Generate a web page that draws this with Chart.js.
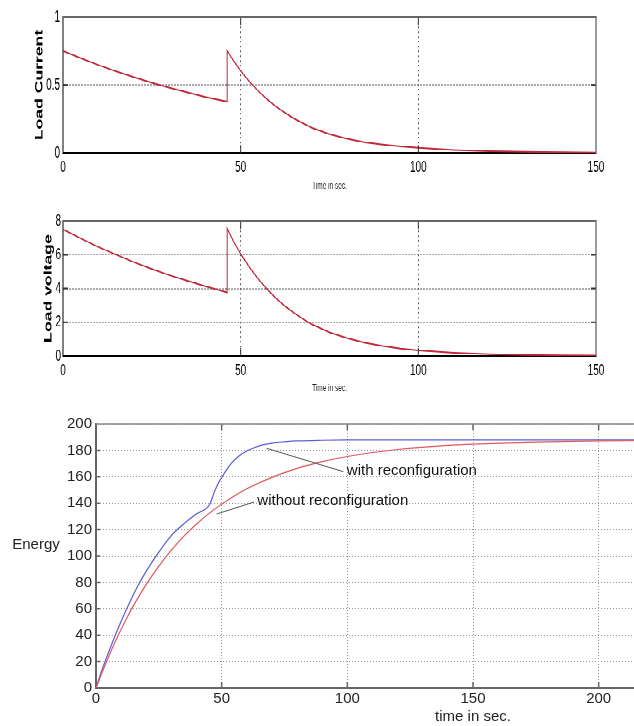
<!DOCTYPE html>
<html>
<head>
<meta charset="utf-8">
<script src="https://cdn.jsdelivr.net/npm/chart.js@4.4.1/dist/chart.umd.min.js"></script>
<style>
html,body{margin:0;padding:0;background:#fff;overflow:hidden;width:634px;height:726px;}
#top{position:absolute;left:0;top:0;width:634px;height:250px;transform:scaleY(1.6);transform-origin:0 0;}
#w1{position:absolute;left:0;top:0;width:634px;height:125px;}
#w2{position:absolute;left:0;top:125px;width:634px;height:125px;}
#w3{position:absolute;left:0;top:400px;width:870px;height:326px;}
</style>
</head>
<body>
<div id="top">
  <div id="w1"><canvas id="c1"></canvas></div>
  <div id="w2"><canvas id="c2"></canvas></div>
</div>
<div id="w3"><canvas id="c3"></canvas></div>
<script>
// ---------- data ----------
const timeTop = [0,5,10,15,20,25,30,35,40,46.2,46.2,48,50,52.5,55,57.5,60,62.5,65,67.5,70,75,80,85,90,95,100,110,120,130,140,150];
const loadCurrent = [0.750,0.697,0.646,0.600,0.557,0.516,0.479,0.445,0.412,0.377,0.752,0.677,0.604,0.523,0.454,0.393,0.340,0.295,0.253,0.219,0.185,0.138,0.104,0.078,0.061,0.048,0.038,0.022,0.013,0.008,0.005,0.003];
const loadVoltage = [7.50,6.96,6.45,6.00,5.55,5.15,4.78,4.45,4.13,3.77,7.55,6.78,6.05,5.25,4.55,3.94,3.41,2.95,2.55,2.20,1.88,1.40,1.05,0.78,0.59,0.44,0.33,0.19,0.11,0.06,0.04,0.02];
const xTicksTop = [0,50,100,150];
const yTicksCurrent = [0,0.5,1];
const yTicksVoltage = [0,2,4,6,8];

const timeWith = [0,2,4,8,12,16,20,25,30,35,40,45.2,47,48.5,50,52,54,57,60,63,66,70,75,80,90,100,120,150,200,230];
const energyWith = [0,11.5,22,41.5,59,75,88.5,103,115.5,124.5,132,139,148,154.5,159.5,165.5,170.5,176,179.5,182,184,185.5,186.5,187.2,187.7,187.9,188,188,188,188];
const timeWithout = [0,4,8,12,16,20,25,30,35,40,45,50,55,60,70,80,90,100,110,120,135,150,175,200,230];
const energyWithout = [0,19.2,36.5,52.1,66.0,78.5,92.3,104.4,115.0,124.2,132.3,139.3,145.5,150.9,159.6,166.4,171.5,175.4,178.4,180.7,183.1,184.7,186.3,187.2,187.6];
const xTicksEnergy = [0,50,100,150,200,250,300];
const yTicksEnergy = [0,20,40,60,80,100,120,140,160,180,200];

const notes = [
  {text:'with reconfiguration', tx:99.8, ty:164.4, x1:98.4, y1:163.9, x2:67.9, y2:181.6},
  {text:'without reconfiguration', tx:64.2, ty:141.5, x1:62.9, y1:140.9, x2:48.0, y2:131.8}
];

// ---------- helpers ----------
Chart.defaults.font.family = "'Liberation Sans', Arial, Helvetica, sans-serif";
Chart.defaults.color = '#000';
const pts = (xs, ys) => xs.map((x, i) => ({x: x, y: ys[i]}));
const setTicks = arr => s => { s.ticks = arr.map(v => ({value: v})); };
const plainLabel = v => String(v);

const frameTicks = {
  id: 'frameTicks',
  afterDraw(chart, args, o) {
    const {ctx, chartArea: a, scales: {x, y}} = chart;
    ctx.save();
    ctx.lineWidth = o.tickWidth;
    ctx.strokeStyle = o.tickColor;
    ctx.beginPath();
    x.ticks.forEach(t => {
      if (t.value <= x.min || t.value >= x.max) return;
      const px = x.getPixelForValue(t.value);
      ctx.moveTo(px, a.bottom); ctx.lineTo(px, a.bottom - o.tickLenX);
      ctx.moveTo(px, a.top); ctx.lineTo(px, a.top + o.tickLenX);
    });
    y.ticks.forEach(t => {
      if (t.value <= y.min || t.value >= y.max) return;
      const py = y.getPixelForValue(t.value);
      ctx.moveTo(a.left, py); ctx.lineTo(a.left + o.tickLenY, py);
      ctx.moveTo(a.right, py); ctx.lineTo(a.right - o.tickLenY, py);
    });
    ctx.stroke();
    ctx.lineWidth = o.frameWidth;
    ctx.strokeStyle = o.frameColor;
    ctx.beginPath();
    ctx.moveTo(a.left, a.top); ctx.lineTo(a.right, a.top); ctx.lineTo(a.right, a.bottom);
    ctx.stroke();
    ctx.restore();
  }
};

function makeTop(id, ys, yTicks, yMax, yTitle, o) {
  return new Chart(document.getElementById(id), {
    type: 'line',
    data: {datasets: [{data: pts(timeTop, ys), borderColor: '#c0283c', borderWidth: 1, pointRadius: 0, tension: 0, fill: false}]},
    options: {
      responsive: true, maintainAspectRatio: false, animation: false, devicePixelRatio: 2, events: [],
      layout: {padding: {left: 0, top: o.top, right: 38, bottom: 0}},
      plugins: {
        legend: {display: false}, tooltip: {enabled: false},
        frameTicks: {tickWidth: 1, tickColor: '#333', tickLenX: 5, tickLenY: 5, frameWidth: 1.3, frameColor: '#666'}
      },
      scales: {
        x: {
          type: 'linear', min: 0, max: 150,
          afterBuildTicks: setTicks(xTicksTop),
          afterFit: s => { s.height = o.xh; },
          grid: {color: '#555', lineWidth: 1, drawTicks: false},
          border: {color: '#000', width: 1, dash: [1, 2]},
          ticks: {font: {size: 10}, color: '#000', padding: 3, maxRotation: 0, autoSkip: false, callback: plainLabel},
          title: {display: true, text: 'Time in sec.', font: {size: 6.5}, color: '#222', padding: {top: 0, bottom: o.tpb}}
        },
        y: {
          type: 'linear', min: 0, max: yMax,
          afterBuildTicks: setTicks(yTicks),
          afterFit: s => { s.width = 63; },
          grid: {color: '#555', lineWidth: 1, drawTicks: false},
          border: {color: '#000', width: 1, dash: [1, 2]},
          ticks: {font: {size: 10}, color: '#000', padding: o.ytp, autoSkip: false, callback: plainLabel},
          title: {display: true, text: yTitle, font: {size: 11, weight: 'bold'}, color: '#000', padding: {top: o.ytitle, bottom: 0}}
        }
      }
    },
    plugins: [frameTicks]
  });
}

makeTop('c1', loadCurrent, yTicksCurrent, 1, 'Load Current', {top: 10.6, xh: 29.4, tpb: 4.85, ytp: 3, ytitle: 33});
makeTop('c2', loadVoltage, yTicksVoltage, 8, 'Load voltage', {top: 13.1, xh: 27.5, tpb: 3.4, ytp: 2, ytitle: 41.8});

const notesPlugin = {
  id: 'notes',
  afterDraw(chart) {
    const {ctx, chartArea: a, scales: {x, y}} = chart;
    ctx.save();
    ctx.strokeStyle = '#555';
    ctx.lineWidth = 1;
    notes.forEach(n => {
      ctx.beginPath();
      ctx.moveTo(x.getPixelForValue(n.x1), y.getPixelForValue(n.y1));
      ctx.lineTo(x.getPixelForValue(n.x2), y.getPixelForValue(n.y2));
      ctx.stroke();
    });
    ctx.fillStyle = '#111';
    ctx.font = "15px 'Liberation Sans', Arial, sans-serif";
    ctx.textAlign = 'left';
    ctx.textBaseline = 'middle';
    notes.forEach(n => {
      ctx.fillText(n.text, x.getPixelForValue(n.tx), y.getPixelForValue(n.ty));
    });
    ctx.fillStyle = '#222';
    ctx.textAlign = 'center';
    ctx.fillText('Energy', a.left - 60, y.getPixelForValue(108.3));
    ctx.restore();
  }
};

new Chart(document.getElementById('c3'), {
  type: 'line',
  data: {datasets: [
    {label: 'with reconfiguration', data: pts(timeWith, energyWith), borderColor: '#5d5dd5', borderWidth: 1.2, pointRadius: 0, cubicInterpolationMode: 'monotone', fill: false, order: 1},
    {label: 'without reconfiguration', data: pts(timeWithout, energyWithout), borderColor: '#dd5a62', borderWidth: 1.2, pointRadius: 0, cubicInterpolationMode: 'monotone', fill: false, order: 0}
  ]},
  options: {
    responsive: true, maintainAspectRatio: false, animation: false, events: [],
    layout: {padding: {left: 0, top: 24, right: 20, bottom: 0}},
    plugins: {
      legend: {display: false}, tooltip: {enabled: false},
      frameTicks: {tickWidth: 1.5, tickColor: '#666', tickLenX: 6, tickLenY: 4, frameWidth: 1.5, frameColor: '#888'}
    },
    scales: {
      x: {
        type: 'linear', min: 0, max: 300,
        afterBuildTicks: setTicks(xTicksEnergy),
        afterFit: s => { s.height = 38; },
        grid: {color: '#999', lineWidth: 1, drawTicks: false},
        border: {color: '#666', width: 2, dash: [1, 2]},
        ticks: {font: {size: 15}, color: '#222', padding: 2, maxRotation: 0, autoSkip: false, callback: plainLabel},
        title: {display: true, text: 'time in sec.', font: {size: 15}, color: '#222', padding: {top: 0, bottom: 0}}
      },
      y: {
        type: 'linear', min: 0, max: 200,
        afterBuildTicks: setTicks(yTicksEnergy),
        afterFit: s => { s.width = 96; },
        grid: {color: '#999', lineWidth: 1, drawTicks: false},
        border: {color: '#666', width: 2, dash: [1, 2]},
        ticks: {font: {size: 15}, color: '#222', padding: 4, autoSkip: false, callback: plainLabel}
      }
    }
  },
  plugins: [frameTicks, notesPlugin]
});
</script>
</body>
</html>
